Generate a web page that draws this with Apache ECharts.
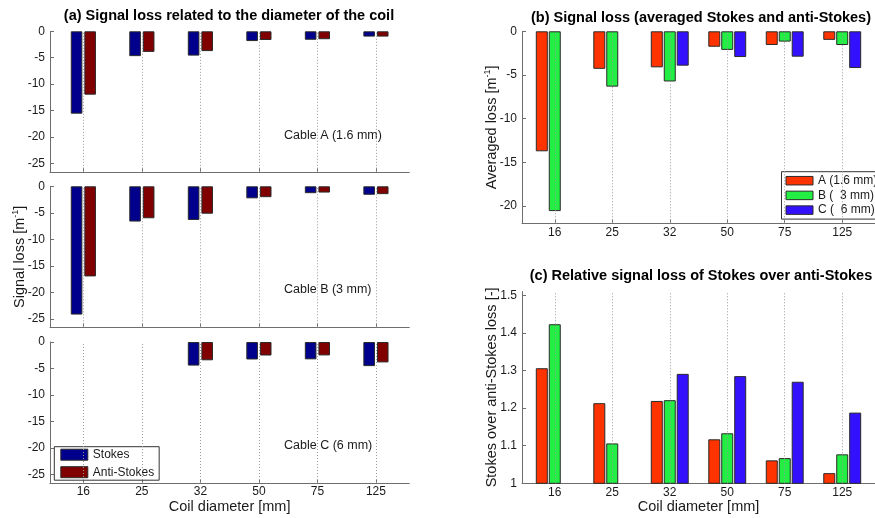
<!DOCTYPE html>
<html><head><meta charset="utf-8">
<script src="https://cdn.jsdelivr.net/npm/echarts@6/dist/echarts.min.js"></script>
<style>html,body{margin:0;padding:0;background:#fff}#c{width:875px;height:518px}</style>
</head><body><div id="c"></div>
<script>
// ---- data ----
const categories = ['16', '25', '32', '50', '75', '125'];
// (a) signal loss [1/m], Stokes / Anti-Stokes, per cable
const cableAStokes = [-15.6, -4.7, -4.6, -1.85, -1.6, -1.0];
const cableAAnti   = [-12.0, -3.9, -3.75, -1.65, -1.5, -1.0];
const cableBStokes = [-24.2, -6.65, -6.35, -2.27, -1.3, -1.6];
const cableBAnti   = [-17.0, -6.03, -5.17, -2.05, -1.18, -1.48];
const cableCStokes = [null, null, -4.45, -3.3, -3.27, -4.55];
const cableCAnti   = [null, null, -3.45, -2.55, -2.53, -3.85];
// (b) averaged loss [1/m]
const avgA = [-13.75, -4.3, -4.13, -1.77, -1.57, -0.98];
const avgB = [-20.6, -6.34, -5.75, -2.13, -1.18, -1.57];
const avgC = [null, null, -3.94, -2.95, -2.91, -4.21];
// (c) Stokes over anti-Stokes loss ratio
const ratioA = [1.306, 1.213, 1.219, 1.117, 1.061, 1.027];
const ratioB = [1.423, 1.106, 1.221, 1.133, 1.067, 1.077];
const ratioC = [null, null, 1.291, 1.285, 1.270, 1.188];
// tick labels
const lossTicks = [0, -5, -10, -15, -20, -25];
const avgTicks = [0, -5, -10, -15, -20];
const ratioTicks = [1, 1.1, 1.2, 1.3, 1.4, 1.5];
const seriesNames = ['Stokes', 'Anti-Stokes'];
const cableNames = ['A (1.6 mm)', 'B (  3 mm)', 'C (  6 mm)'];

// ---- styling ----
const FONT = '"Liberation Sans", Arial, Helvetica, sans-serif';
const AX = '#6e6e6e';
const TXT = '#1a1a1a';
const NAVY = '#00008c', DRED = '#800000';
const RED = '#ff3300', GREEN = '#22ee44', BLUE = '#3311ff';
const xIdx = categories.map((c, i) => i + 1);

function pts(vals) {
  const out = [];
  vals.forEach((v, i) => { if (v !== null) out.push([i + 1, v]); });
  return out;
}
const nameRich = {
  n: { fontSize: 14.5, fontFamily: FONT, color: TXT, lineHeight: 18 },
  s: { fontSize: 9, fontFamily: FONT, color: TXT, verticalAlign: 'top', lineHeight: 11 }
};
function xAx(gi, showLabels, name) {
  return {
    type: 'value', gridIndex: gi, min: 0.43, max: 6.57,
    axisLine: { show: true, onZero: false, lineStyle: { color: AX, width: 1 } },
    axisTick: { show: true, inside: true, length: 4, customValues: xIdx, lineStyle: { color: AX } },
    axisLabel: { show: showLabels, customValues: xIdx, formatter: v => categories[Math.round(v) - 1],
      color: TXT, fontSize: 12, fontFamily: FONT, margin: 3 },
    splitLine: { show: false },
    name: name || '', nameLocation: 'middle', nameGap: 16, nameMoveOverlap: false,
    nameTextStyle: { fontSize: 14.5, fontFamily: FONT, color: TXT, verticalAlign: 'top' }
  };
}
function yAx(gi, min, max, ticks, name) {
  return {
    type: 'value', gridIndex: gi, min: min, max: max,
    axisLine: { show: true, onZero: false, lineStyle: { color: AX, width: 1 } },
    axisTick: { show: true, inside: true, length: 4, customValues: ticks, lineStyle: { color: AX } },
    axisLabel: { customValues: ticks, color: TXT, fontSize: 12, fontFamily: FONT, margin: 5 },
    splitLine: { show: false },
    name: name || '', nameLocation: 'middle', nameGap: 21, nameMoveOverlap: false,
    nameTextStyle: { rich: nameRich }
  };
}
// dotted vertical grid at the category centres, on its own empty series
function gridDots(gi) {
  return {
    type: 'line', name: 'grid' + gi, xAxisIndex: gi, yAxisIndex: gi, data: [], silent: true,
    markLine: {
      silent: true, symbol: ['none', 'none'], label: { show: false },
      lineStyle: { type: [1, 2], color: '#9a9a9a', width: 1 },
      emphasis: { disabled: true },
      data: xIdx.map(v => ({ xAxis: v }))
    }
  };
}
function bar(name, vals, gi, color, bw, gap) {
  return {
    type: 'bar', name: name, xAxisIndex: gi, yAxisIndex: gi, data: pts(vals),
    barWidth: bw, barGap: gap, clip: true, silent: true,
    itemStyle: { color: color, borderColor: '#2a2a2a', borderWidth: 1 }
  };
}

const chart = echarts.init(document.getElementById('c'), null, { renderer: 'canvas' });
chart.setOption({
  animation: false,
  backgroundColor: '#fff',
  textStyle: { fontFamily: FONT },
  grid: [
    { left: 50, top: 31.3, width: 359.3, height: 140.5 },
    { left: 50, top: 186.3, width: 359.3, height: 141 },
    { left: 50, top: 342, width: 359.3, height: 141 },
    { left: 522, top: 31.3, width: 360.8, height: 192 },
    { left: 522, top: 291.5, width: 360.8, height: 191.8 }
  ],
  xAxis: [
    xAx(0, false), xAx(1, false), xAx(2, true, 'Coil diameter [mm]'),
    xAx(3, true), xAx(4, true, 'Coil diameter [mm]')
  ],
  yAxis: [
    yAx(0, -26.6, 0, lossTicks),
    yAx(1, -26.6, 0, lossTicks, '{n|Signal loss [m}{s|-1}{n|]}'),
    yAx(2, -26.6, 0, lossTicks),
    yAx(3, -22, 0, avgTicks, '{n|Averaged loss [m}{s|-1}{n|]}'),
    yAx(4, 1, 1.51, ratioTicks, '{n|Stokes over anti-Stokes loss [-]}')
  ],
  legend: [
    {
      orient: 'vertical', left: 54.3, top: 446.7, data: seriesNames,
      itemWidth: 27, itemHeight: 11, itemGap: 5.5, padding: [2, 5, 2, 6],
      borderColor: '#333', borderWidth: 1, backgroundColor: '#fff',
      textStyle: { fontSize: 12, color: TXT, fontFamily: FONT },
      selectedMode: false, icon: 'rect',
      itemStyle: { borderColor: '#2a2a2a', borderWidth: 1 }
    },
    {
      orient: 'vertical', left: 781.5, top: 171.7, data: cableNames,
      itemWidth: 27, itemHeight: 8.5, itemGap: 2.7, padding: [3, 4, 3, 4],
      borderColor: '#333', borderWidth: 1, backgroundColor: '#fff',
      textStyle: { fontSize: 12, color: TXT, fontFamily: FONT },
      selectedMode: false, icon: 'rect',
      itemStyle: { borderColor: '#2a2a2a', borderWidth: 1 }
    }
  ],
  graphic: [
    { type: 'text', x: 229, y: 16, style: { text: '(a) Signal loss related to the diameter of the coil',
      fontSize: 14.5, fontWeight: 'bold', fontFamily: FONT, fill: '#000', align: 'center', verticalAlign: 'middle',
      textAlign: 'center', textVerticalAlign: 'middle' } },
    { type: 'text', x: 701, y: 17.5, style: { text: '(b) Signal loss (averaged Stokes and anti-Stokes)',
      fontSize: 14.5, fontWeight: 'bold', fontFamily: FONT, fill: '#000', align: 'center', verticalAlign: 'middle',
      textAlign: 'center', textVerticalAlign: 'middle' } },
    { type: 'text', x: 701, y: 276, style: { text: '(c) Relative signal loss of Stokes over anti-Stokes',
      fontSize: 14.5, fontWeight: 'bold', fontFamily: FONT, fill: '#000', align: 'center', verticalAlign: 'middle',
      textAlign: 'center', textVerticalAlign: 'middle' } },
    { type: 'text', x: 284, y: 136, style: { text: 'Cable A (1.6 mm)', fontSize: 12.5, fontFamily: FONT, fill: TXT,
      align: 'left', verticalAlign: 'middle', textAlign: 'left', textVerticalAlign: 'middle' } },
    { type: 'text', x: 284, y: 290, style: { text: 'Cable B (3 mm)', fontSize: 12.5, fontFamily: FONT, fill: TXT,
      align: 'left', verticalAlign: 'middle', textAlign: 'left', textVerticalAlign: 'middle' } },
    { type: 'text', x: 284, y: 445.3, style: { text: 'Cable C (6 mm)', fontSize: 12.5, fontFamily: FONT, fill: TXT,
      align: 'left', verticalAlign: 'middle', textAlign: 'left', textVerticalAlign: 'middle' } }
  ],
  series: [
    bar(seriesNames[0], cableAStokes, 0, NAVY, 11.6, '17%'),
    bar(seriesNames[1], cableAAnti, 0, DRED, 11.6, '17%'),
    bar(seriesNames[0], cableBStokes, 1, NAVY, 11.6, '17%'),
    bar(seriesNames[1], cableBAnti, 1, DRED, 11.6, '17%'),
    bar(seriesNames[0], cableCStokes, 2, NAVY, 11.6, '17%'),
    bar(seriesNames[1], cableCAnti, 2, DRED, 11.6, '17%'),
    bar(cableNames[0], avgA, 3, RED, 12, '8%'),
    bar(cableNames[1], avgB, 3, GREEN, 12, '8%'),
    bar(cableNames[2], avgC, 3, BLUE, 12, '8%'),
    bar(cableNames[0], ratioA, 4, RED, 12, '8%'),
    bar(cableNames[1], ratioB, 4, GREEN, 12, '8%'),
    bar(cableNames[2], ratioC, 4, BLUE, 12, '8%'),
    gridDots(0), gridDots(1), gridDots(2), gridDots(3), gridDots(4)
  ]
});
</script></body></html>
